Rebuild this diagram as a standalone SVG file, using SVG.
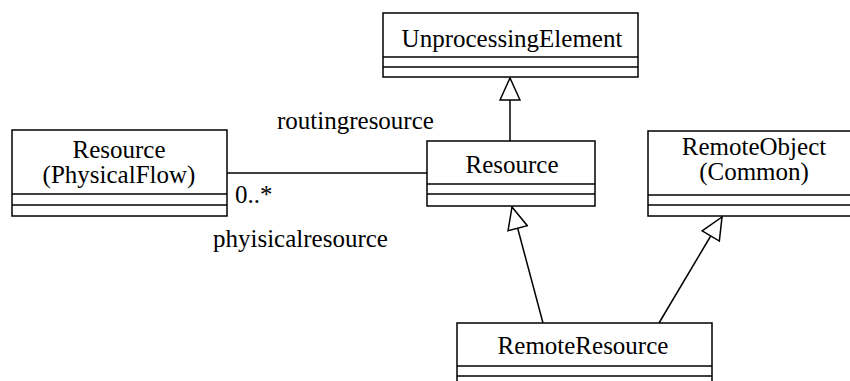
<svg xmlns="http://www.w3.org/2000/svg" width="850" height="381" viewBox="0 0 850 381">
<style>
.box{fill:#fff;stroke:#000;stroke-width:1.5}
.sep{stroke:#000;stroke-width:1.5}
.t{font-family:"Liberation Serif","Times New Roman",serif;font-size:25px;fill:#000}
.c{text-anchor:middle}
.edge{stroke:#000;stroke-width:1.5;fill:none}
</style>
<defs>
<marker id="gen" viewBox="0 0 24 22" refX="23" refY="11" markerWidth="24" markerHeight="22" markerUnits="userSpaceOnUse" orient="auto">
<path d="M1,1 L23,11 L1,21 Z" fill="#fff" stroke="#000" stroke-width="1.5"/>
</marker>
</defs>
<rect width="850" height="381" fill="#fff"/>
<g id="connectors">
<line class="edge" x1="510" y1="141" x2="510" y2="78" marker-end="url(#gen)"/>
<line class="edge" x1="543" y1="323" x2="512" y2="207" marker-end="url(#gen)"/>
<line class="edge" x1="659" y1="323" x2="722" y2="217" marker-end="url(#gen)"/>
<line class="edge" x1="227" y1="173" x2="427" y2="173"/>
<text class="t" x="277" y="129">routingresource</text>
<text class="t" x="235" y="203">0..*</text>
<text class="t" x="213" y="247">phyisicalresource</text>
</g>
<g id="UnprocessingElement">
<rect class="box" x="383" y="13" width="255" height="64"/>
<line class="sep" x1="383" y1="57" x2="638" y2="57"/>
<line class="sep" x1="383" y1="67" x2="638" y2="67"/>
<text class="t c" x="512" y="47">UnprocessingElement</text>
</g>
<g id="ResourcePhysicalFlow">
<rect class="box" x="12" y="130" width="215" height="86"/>
<line class="sep" x1="12" y1="194" x2="227" y2="194"/>
<line class="sep" x1="12" y1="205" x2="227" y2="205"/>
<text class="t c" x="119" y="158">Resource</text>
<text class="t c" x="119" y="183">(PhysicalFlow)</text>
</g>
<g id="Resource">
<rect class="box" x="427" y="141" width="168" height="65"/>
<line class="sep" x1="427" y1="184" x2="595" y2="184"/>
<line class="sep" x1="427" y1="194" x2="595" y2="194"/>
<text class="t c" x="512" y="173">Resource</text>
</g>
<g id="RemoteObject">
<rect class="box" x="648" y="131" width="206" height="85"/>
<line class="sep" x1="648" y1="195" x2="854" y2="195"/>
<line class="sep" x1="648" y1="205" x2="854" y2="205"/>
<text class="t c" x="754" y="155">RemoteObject</text>
<text class="t c" x="754" y="180">(Common)</text>
</g>
<g id="RemoteResource">
<rect class="box" x="457" y="323" width="255" height="70"/>
<line class="sep" x1="457" y1="366" x2="712" y2="366"/>
<line class="sep" x1="457" y1="376" x2="712" y2="376"/>
<text class="t c" x="583" y="354">RemoteResource</text>
</g>
</svg>
